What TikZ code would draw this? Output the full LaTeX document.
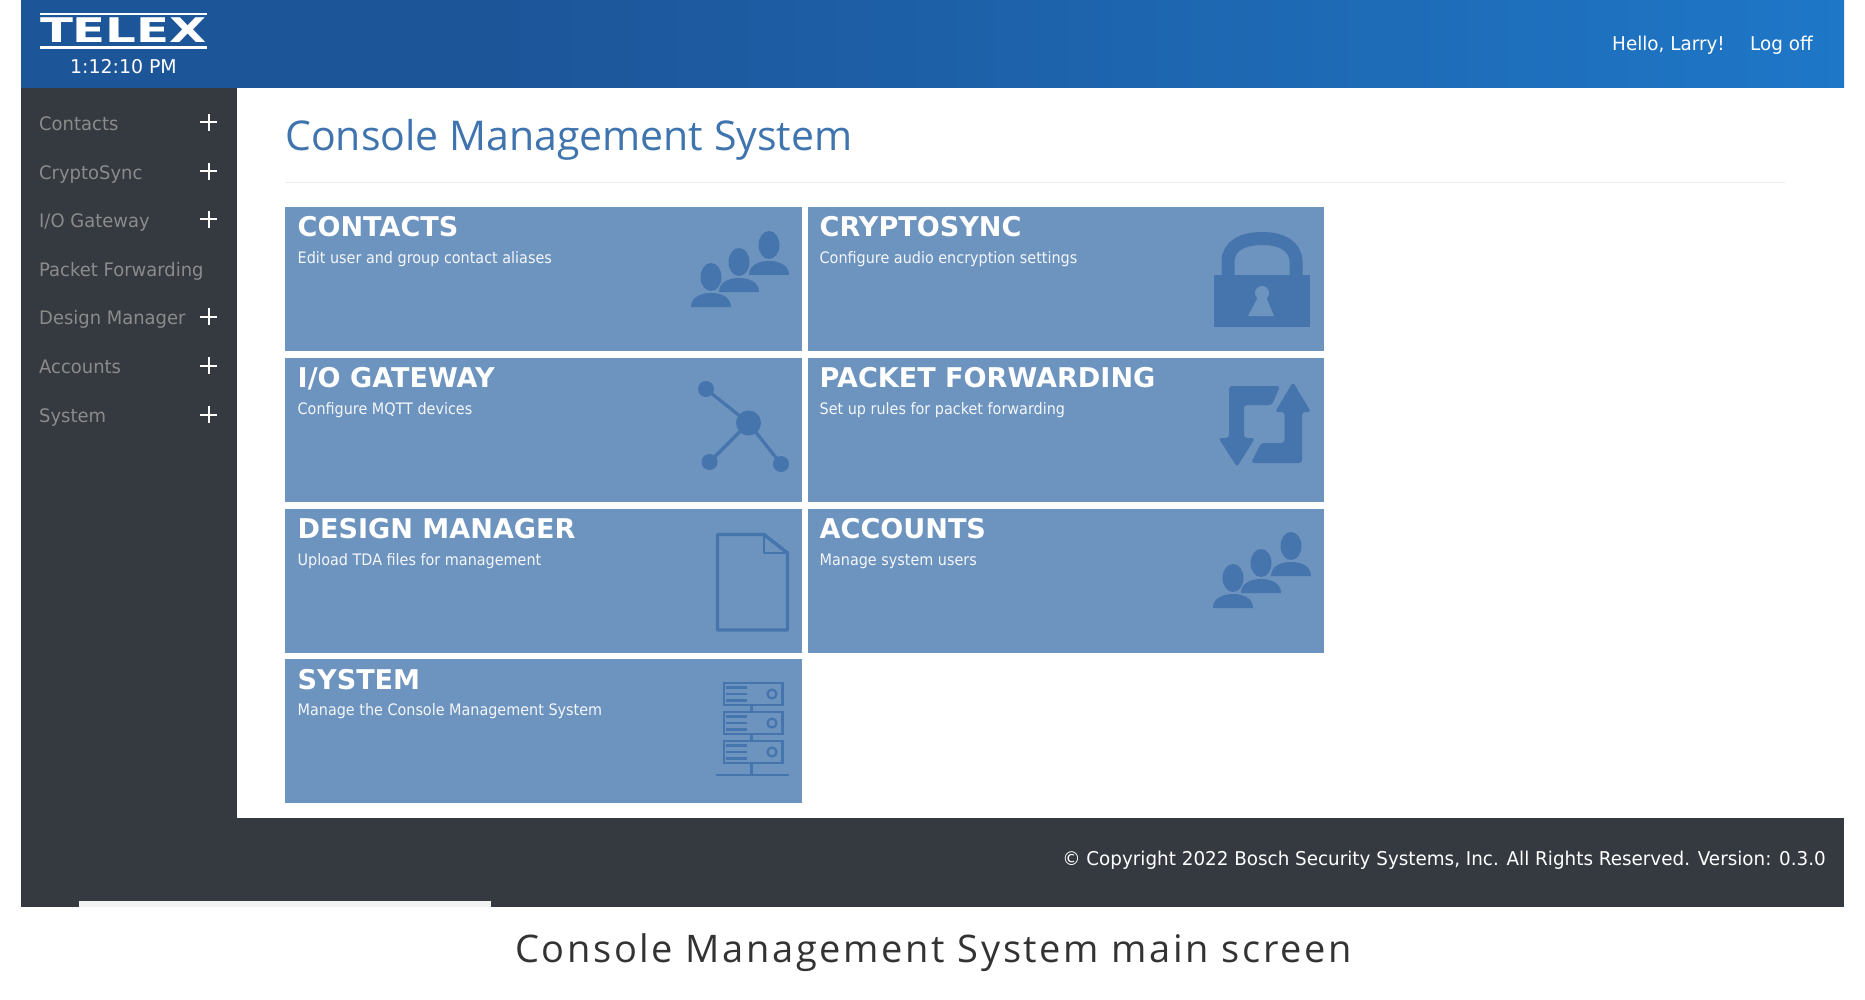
\documentclass[tikz,border=0pt]{standalone}
\usepackage{fontspec}
\setmainfont[FakeStretch=0.91]{DejaVu Sans}
\newfontfamily\titlefont{Open Sans}
\newfontfamily\capfont[LetterSpace=7]{Open Sans}
\newfontfamily\logofont[FakeStretch=1.42]{DejaVu Sans}
\newfontfamily\uifont[FakeStretch=0.965]{DejaVu Sans}
\newfontfamily\headfont[FakeStretch=0.995]{DejaVu Sans}
\definecolor{darkbg}{HTML}{343A40}
\definecolor{tile}{HTML}{6D93BF}
\definecolor{icon}{HTML}{4675AD}
\definecolor{headl}{HTML}{1D5599}
\definecolor{headr}{HTML}{1E77C7}
\definecolor{titleblue}{HTML}{3F74AE}
\definecolor{sidetext}{HTML}{8B8B8B}
\definecolor{tiletext}{HTML}{F4F7FA}
\newcommand\fs[1]{\fontsize{#1}{#1}\selectfont}
\tikzset{
  x=1pt,y=-1pt,
  sidelabel/.style={anchor=base west,inner sep=0pt,text=sidetext,font=\uifont\fs{18.6}},
  plusmark/.style={white,line width=2pt},
  tilehead/.style={anchor=base west,inner sep=0pt,text=white,font=\headfont\fs{27.2}\bfseries},
  tilesub/.style={anchor=base west,inner sep=0pt,text=tiletext,font=\fs{15.8}},
  iconline/.style={draw=icon,fill=none,line width=2.2pt},
  headtext/.style={anchor=base west,inner sep=0pt,text=white,font=\uifont\fs{19}},
}
\newcommand\person[2]{%
  \fill[icon,shift={(#1,#2)}] (-20,30) .. controls (-20,20) and (-10,16) .. (0,16) .. controls (10,16) and (20,20) .. (20,30) -- cycle;
  \fill[icon,shift={(#1,#2)}] (0,0) ellipse [x radius=10.5pt,y radius=14pt];
}
\newcommand\people[2]{%
  \begin{scope}[shift={(#1,#2)}]
    \person{769}{245}
    \person{739}{262}
    \person{711}{277}
  \end{scope}
}
\newcommand\pluss[1]{\draw[plusmark] (200,#1) -- (217,#1) (208.5,#1-8.5) -- (208.5,#1+8.5);}
\begin{document}
\begin{tikzpicture}
\useasboundingbox (0,0) rectangle (1865,1000);
\fill[white] (0,0) rectangle (1865,1000);
% frame
\fill[darkbg] (21,0) rectangle (1844,906.5);
\fill[white] (237,88) rectangle (1844,818);
\fill[white!95!black] (79,901) rectangle (491,906.5);
% header
\fill[headl] (21,0) rectangle (501,88);
\shade[left color=headl,right color=headr] (500,0) rectangle (1844,88);
% logo
\fill[white] (40,13) rectangle (207,15.5);
\fill[white] (40,46) rectangle (207,49);
\node[anchor=base,inner sep=0pt,text=white,font=\logofont\fs{34}\bfseries] (logo) at (123.5,43) {TELEX};
\node[anchor=base,inner sep=0pt,text=white,font=\headfont\fs{19}] (clock) at (123.5,73.5) {1:12:10 PM};
\node[headtext] (hello) at (1612,50.5) {Hello, Larry!};
\node[headtext] (logoff) at (1750,50.5) {Log off};
% sidebar
\node[sidelabel] (s1) at (39,130.5) {Contacts};
\node[sidelabel] (s2) at (39,180) {CryptoSync};
\node[sidelabel] (s3) at (39,227.5) {I/O Gateway};
\node[sidelabel] (s4) at (39,276.5) {Packet Forwarding};
\node[sidelabel] (s5) at (39,324.5) {Design Manager};
\node[sidelabel] (s6) at (39,373) {Accounts};
\node[sidelabel] (s7) at (39,422) {System};
\pluss{122.5}\pluss{171.5}\pluss{219.5}\pluss{316.5}\pluss{365.5}\pluss{414.5}
% title
\node[anchor=base west,inner sep=0pt,text=titleblue,font=\titlefont\fs{41}] (title) at (285,151) {Console Management System};
\draw[black!7,line width=1pt] (285,183) -- (1785,183);
% tiles
\fill[tile] (285,207) rectangle (801.5,351);
\fill[tile] (807.5,207) rectangle (1324,351);
\fill[tile] (285,358) rectangle (801.5,502);
\fill[tile] (807.5,358) rectangle (1324,502);
\fill[tile] (285,509) rectangle (801.5,652.5);
\fill[tile] (807.5,509) rectangle (1324,652.5);
\fill[tile] (285,659) rectangle (801.5,803);
% tile text
\node[tilehead] (h1) at (297.5,236.5) {CONTACTS};
\node[tilesub] (d1) at (297.5,264) {Edit user and group contact aliases};
\node[tilehead] (h2) at (819.5,236.5) {CRYPTOSYNC};
\node[tilesub] (d2) at (819.5,264) {Configure audio encryption settings};
\node[tilehead] (h3) at (297.5,387.5) {I/O GATEWAY};
\node[tilesub] (d3) at (297.5,414) {Configure MQTT devices};
\node[tilehead] (h4) at (819.5,387.5) {PACKET FORWARDING};
\node[tilesub] (d4) at (819.5,414) {Set up rules for packet forwarding};
\node[tilehead] (h5) at (297.5,538) {DESIGN MANAGER};
\node[tilesub] (d5) at (297.5,565) {Upload TDA files for management};
\node[tilehead] (h6) at (819.5,538) {ACCOUNTS};
\node[tilesub] (d6) at (819.5,565) {Manage system users};
\node[tilehead] (h7) at (297.5,689) {SYSTEM};
\node[tilesub] (d7) at (297.5,715.5) {Manage the Console Management System};
% people icons
\people{0}{0}
\people{522}{301}
% lock
\fill[icon] (1214,275) rectangle (1310,327);
\draw[icon,line width=13pt] (1228,276) -- (1228,262) .. controls (1228,245) and (1244,238.5) .. (1262,238.5) .. controls (1280,238.5) and (1296,245) .. (1296,262) -- (1296,276);
\fill[tile] (1262,293) circle [radius=7] (1258,297) -- (1266,297) -- (1274,316) -- (1248,316) -- cycle;
% network
\draw[icon,line width=3.2pt] (706,389) -- (748.5,423) (709.5,462) -- (748.5,423) (781,464) -- (748.5,423);
\fill[icon] (748.5,423) circle [radius=12.5] (706,389) circle [radius=8] (709.5,462) circle [radius=8] (781,464) circle [radius=8];
% packet forwarding arrows
\fill[icon,rounded corners=3pt] (1293,382) -- (1311,412) -- (1302,412) -- (1302,463) -- (1251,463) -- (1261,443) -- (1284.5,443) -- (1284.5,412) -- (1275,412) -- cycle;
\fill[icon,rounded corners=3pt] (1237,467) -- (1255,438) -- (1244,438) -- (1244,405) -- (1272,405) -- (1280,386) -- (1229,386) -- (1229,438) -- (1218.5,438) -- cycle;
% document
\draw[icon,line width=3.4pt,line join=round] (764,534.5) -- (717.5,534.5) -- (717.5,630) -- (787.5,630) -- (787.5,553) -- cycle;
\draw[icon,line width=2.6pt,line join=round] (764,534.5) -- (764,553) -- (787.5,553);
% server
\foreach \yy in {683,712,741}{
  \draw[iconline] (724,\yy) rectangle (782.5,\yy+22);
  \draw[iconline] (726,\yy+4.5) -- (747,\yy+4.5) (726,\yy+11) -- (747,\yy+11) (726,\yy+17.5) -- (747,\yy+17.5);
  \draw[iconline] (772,\yy+11) circle [radius=4.5];
}
\draw[iconline] (751.5,705) -- (751.5,712) (751.5,734) -- (751.5,741) (751.5,763) -- (751.5,775) (715.5,775) -- (789,775);
% footer and caption
\node[anchor=base east,inner sep=0pt,text=white,font=\uifont\fs{19}] (foot) at (1826,865) {© Copyright 2022 Bosch Security Systems, Inc. All Rights Reserved. Version: 0.3.0};
\node[anchor=base,inner sep=0pt,text=black!80,font=\capfont\fs{38}] (cap) at (933.5,962.5) {Console Management System main screen};
\end{tikzpicture}
\end{document}
